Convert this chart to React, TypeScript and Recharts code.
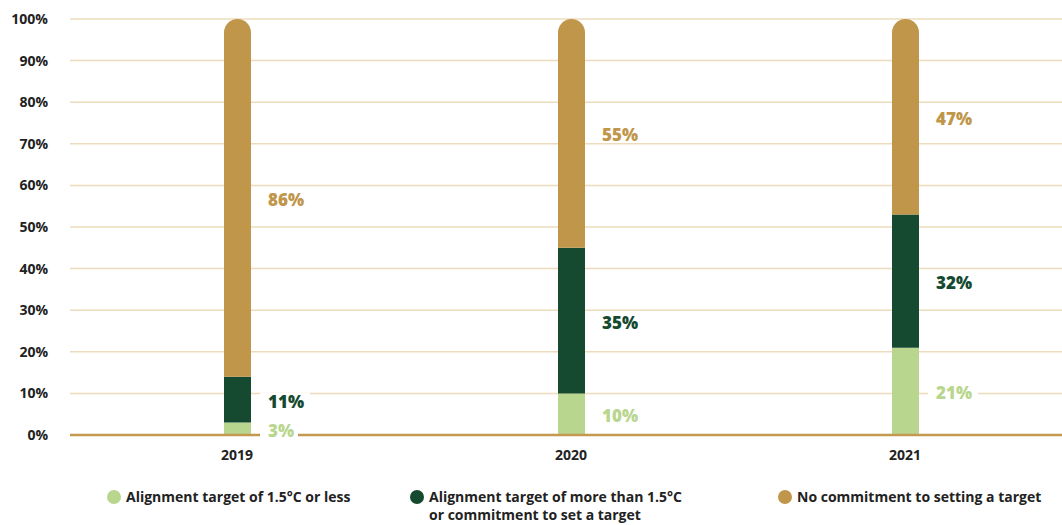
import { BarChart, Bar, XAxis, YAxis, CartesianGrid, Legend, LabelList } from 'recharts';

const years = ['2019', '2020', '2021'];
const aligned15 = [3, 10, 21];
const alignedAbove15 = [11, 35, 32];
const noCommitment = [86, 55, 47];
const yTicks = [0, 10, 20, 30, 40, 50, 60, 70, 80, 90, 100];

const series = [
  { key: 'aligned15', name: 'Alignment target of 1.5°C or less', color: '#b9d68f', values: aligned15 },
  {
    key: 'alignedAbove15',
    name: 'Alignment target of more than 1.5°C\nor commitment to set a target',
    color: '#154a30',
    values: alignedAbove15,
  },
  { key: 'noCommitment', name: 'No commitment to setting a target', color: '#c0964b', values: noCommitment },
];

const data = years.map((year, i) => ({
  year,
  aligned15: aligned15[i],
  alignedAbove15: alignedAbove15[i],
  noCommitment: noCommitment[i],
}));

const FONT = '"Open Sans", Arial, sans-serif';

// value label to the right of each stacked segment, on a white patch so gridlines break around it
function makeLabel(color: string) {
  return function SegmentLabel(props: any) {
    const { x, y, width, height, value } = props;
    const cx = Number(x) + Number(width) + 17;
    const cy = Number(y) + Number(height) / 2;
    const text = `${value}%`;
    const w = text.length * 12 + 14;
    return (
      <g>
        <rect x={cx - 8} y={cy - 7} width={w} height={16} fill="#fff" />
        <text x={cx} y={cy} dy={8} fill={color} fontSize={17} fontWeight={800} fontFamily={FONT}>
          {text}
        </text>
      </g>
    );
  };
}

const legendLefts = [107, 410, 778];

function LegendContent() {
  return (
    <div style={{ position: 'relative', height: 40, fontFamily: FONT }}>
      {series.map((s, i) => (
        <div
          key={s.key}
          style={{ position: 'absolute', left: legendLefts[i], top: 3, display: 'flex', alignItems: 'flex-start' }}
        >
          <span
            style={{
              width: 14,
              height: 14,
              borderRadius: 7,
              background: s.color,
              marginTop: 2,
              marginRight: 5,
              flex: 'none',
            }}
          />
          <span style={{ fontSize: 14, fontWeight: 700, color: '#222', lineHeight: '18px', whiteSpace: 'pre' }}>
            {s.name}
          </span>
        </div>
      ))}
    </div>
  );
}

export default function App() {
  return (
    <div style={{ position: 'absolute', left: 0, top: 0, width: 1062, height: 525, overflow: 'hidden', background: '#fff' }}>
      <BarChart width={1072} height={525} data={data} margin={{ top: 19, right: 0, bottom: 0, left: 0 }}>
        <CartesianGrid horizontal vertical={false} stroke="#ecdcbd" strokeWidth={1.5} />
        <XAxis
          dataKey="year"
          axisLine={{ stroke: '#c4984f', strokeWidth: 2.5 }}
          tickLine={false}
          tickMargin={9}
          height={50}
          tick={{ fill: '#222', fontSize: 14, fontWeight: 700, fontFamily: FONT }}
        />
        <YAxis
          domain={[0, 100]}
          ticks={yTicks}
          width={70}
          axisLine={false}
          tickLine={false}
          tickSize={0}
          tickMargin={22}
          tickFormatter={(v: number) => `${v}%`}
          tick={{ fill: '#222', fontSize: 14, fontWeight: 700, fontFamily: FONT }}
        />
        <Legend verticalAlign="bottom" content={<LegendContent />} wrapperStyle={{ left: 0, width: 1062, height: 40 }} />
        {series.map((s, i) => (
          <Bar
            key={s.key}
            dataKey={s.key}
            name={s.name}
            stackId="a"
            fill={s.color}
            barSize={27}
            radius={i === series.length - 1 ? [14, 14, 0, 0] : 0}
            isAnimationActive={false}
          >
            <LabelList dataKey={s.key} content={makeLabel(s.color)} />
          </Bar>
        ))}
      </BarChart>
    </div>
  );
}
